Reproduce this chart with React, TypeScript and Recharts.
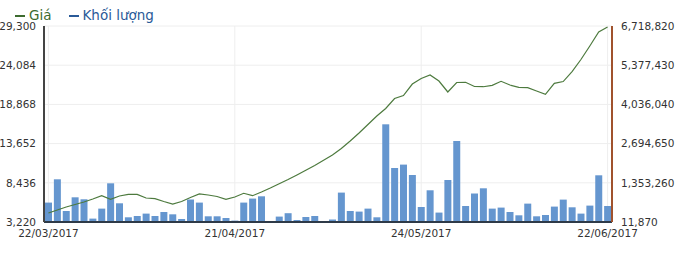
import React from 'react';
import { ComposedChart, Bar, Line, XAxis, YAxis, CartesianGrid } from 'recharts';

// ── Giá / Khối lượng: daily price line over volume bars, 22/03 – 22/06/2017

const DATES = [
  '22/03/2017', '23/03/2017', '24/03/2017', '27/03/2017', '28/03/2017', '29/03/2017', '30/03/2017', '31/03/2017',
  '03/04/2017', '04/04/2017', '05/04/2017', '07/04/2017', '10/04/2017', '11/04/2017', '12/04/2017', '13/04/2017',
  '14/04/2017', '17/04/2017', '18/04/2017', '19/04/2017', '20/04/2017', '21/04/2017', '24/04/2017', '25/04/2017',
  '26/04/2017', '27/04/2017', '28/04/2017', '03/05/2017', '04/05/2017', '05/05/2017', '08/05/2017', '09/05/2017',
  '10/05/2017', '11/05/2017', '12/05/2017', '15/05/2017', '16/05/2017', '17/05/2017', '18/05/2017', '19/05/2017',
  '22/05/2017', '23/05/2017', '24/05/2017', '25/05/2017', '26/05/2017', '29/05/2017', '30/05/2017', '31/05/2017',
  '01/06/2017', '02/06/2017', '05/06/2017', '06/06/2017', '07/06/2017', '08/06/2017', '09/06/2017', '12/06/2017',
  '13/06/2017', '14/06/2017', '15/06/2017', '16/06/2017', '19/06/2017', '20/06/2017', '21/06/2017', '22/06/2017',
];

const PRICE = [
  4420, 4820, 5220, 5550, 5880, 6280, 6720, 6240, 6680, 6900, 6900, 6410, 6320, 5950, 5610, 5950,
  6480, 6950, 6810, 6610, 6240, 6550, 7040, 6720, 7210, 7740, 8320, 8870, 9470, 10100, 10740, 11430,
  12130, 13000, 14000, 15060, 16190, 17320, 18320, 19650, 20050, 21580, 22310, 22780, 21980, 20520,
  21780, 21810, 21250, 21220, 21410, 21940, 21450, 21140, 21100, 20650, 20210, 21670, 21910, 23240,
  24840, 26640, 28500, 29170,
];

const VOLUME = [
  676000, 1473000, 388000, 857000, 789000, 128000, 470000, 1336000, 652000, 173000, 217000, 299000, 217000, 354000, 275000, 115000,
  782000, 676000, 207000, 207000, 149000, 60000, 676000, 813000, 891000, null, 197000, 313000, 80000, 183000, 217000, 29000,
  97000, 1018000, 388000, 368000, 470000, 173000, 3355000, 1860000, 1976000, 1620000, 525000, 1097000, 334000, 1449000,
  2784000, 559000, 987000, 1165000, 470000, 505000, 354000, 241000, 641000, 207000, 251000, 539000, 778000, 515000,
  299000, 573000, 1610000, 559000,
];

const DATE_TICKS = ['22/03/2017', '21/04/2017', '24/05/2017', '22/06/2017'];
const PRICE_TICKS = [3220, 8436, 13652, 18868, 24084, 29300];
const VOLUME_TICKS = [11870, 1353260, 2694650, 4036040, 5377430, 6718820];

const data = DATES.map((d, i) => ({ date: d, price: PRICE[i], volume: VOLUME[i] }));

const FONT = '"DejaVu Sans", Verdana, sans-serif';
const fmt = (v: number) => v.toLocaleString('en-US');
const tickStyle = { fontSize: 10.5, fill: '#333', fontFamily: FONT };

export default function App() {
  return (
    <div style={{ position: 'absolute', left: 0, top: 0, width: 680, height: 255, background: '#fff', fontFamily: FONT }}>
      {/* Legend */}
      <div style={{ position: 'absolute', left: 15, top: 7, display: 'flex', gap: 17, fontSize: 13.5, zIndex: 2 }}>
        <span style={{ color: '#3d6b2f' }}>
          <span style={{ display: 'inline-block', width: 10, height: 2, background: '#3d6b2f', verticalAlign: 'middle', marginRight: 4 }} />
          Giá
        </span>
        <span style={{ color: '#2a5a98' }}>
          <span style={{ display: 'inline-block', width: 10, height: 2, background: '#2a5a98', verticalAlign: 'middle', marginRight: 4 }} />
          Khối lượng
        </span>
      </div>

      <ComposedChart width={680} height={255} data={data} margin={{ top: 26, right: 0, bottom: 0, left: 0 }} barCategoryGap={2}>
        <CartesianGrid yAxisId="price" stroke="#eeeeee" strokeWidth={1} />
        <XAxis
          dataKey="date"
          ticks={DATE_TICKS}
          height={33}
          axisLine={{ stroke: '#2e3a48', strokeWidth: 2 }}
          tickLine={false}
          tick={tickStyle}
          tickMargin={2}
        />
        <YAxis
          yAxisId="price"
          orientation="left"
          width={44}
          domain={[3220, 29300]}
          ticks={PRICE_TICKS}
          interval={0}
          tickFormatter={fmt}
          axisLine={{ stroke: '#444', strokeWidth: 2 }}
          tickLine={false}
          tickMargin={2}
          tick={tickStyle}
        />
        <YAxis
          yAxisId="volume"
          orientation="right"
          width={68}
          domain={[11870, 6718820]}
          ticks={VOLUME_TICKS}
          interval={0}
          tickFormatter={fmt}
          axisLine={{ stroke: '#a0522d', strokeWidth: 2 }}
          tickLine={false}
          tickMargin={3}
          tick={{ ...tickStyle, textAnchor: 'start' }}
        />
        <Bar yAxisId="volume" dataKey="volume" fill="#6596cf" barSize={7} isAnimationActive={false} />
        <Line
          yAxisId="price"
          dataKey="price"
          type="linear"
          stroke="#4d7a3e"
          strokeWidth={1.2}
          dot={false}
          activeDot={false}
          isAnimationActive={false}
        />
      </ComposedChart>
    </div>
  );
}
